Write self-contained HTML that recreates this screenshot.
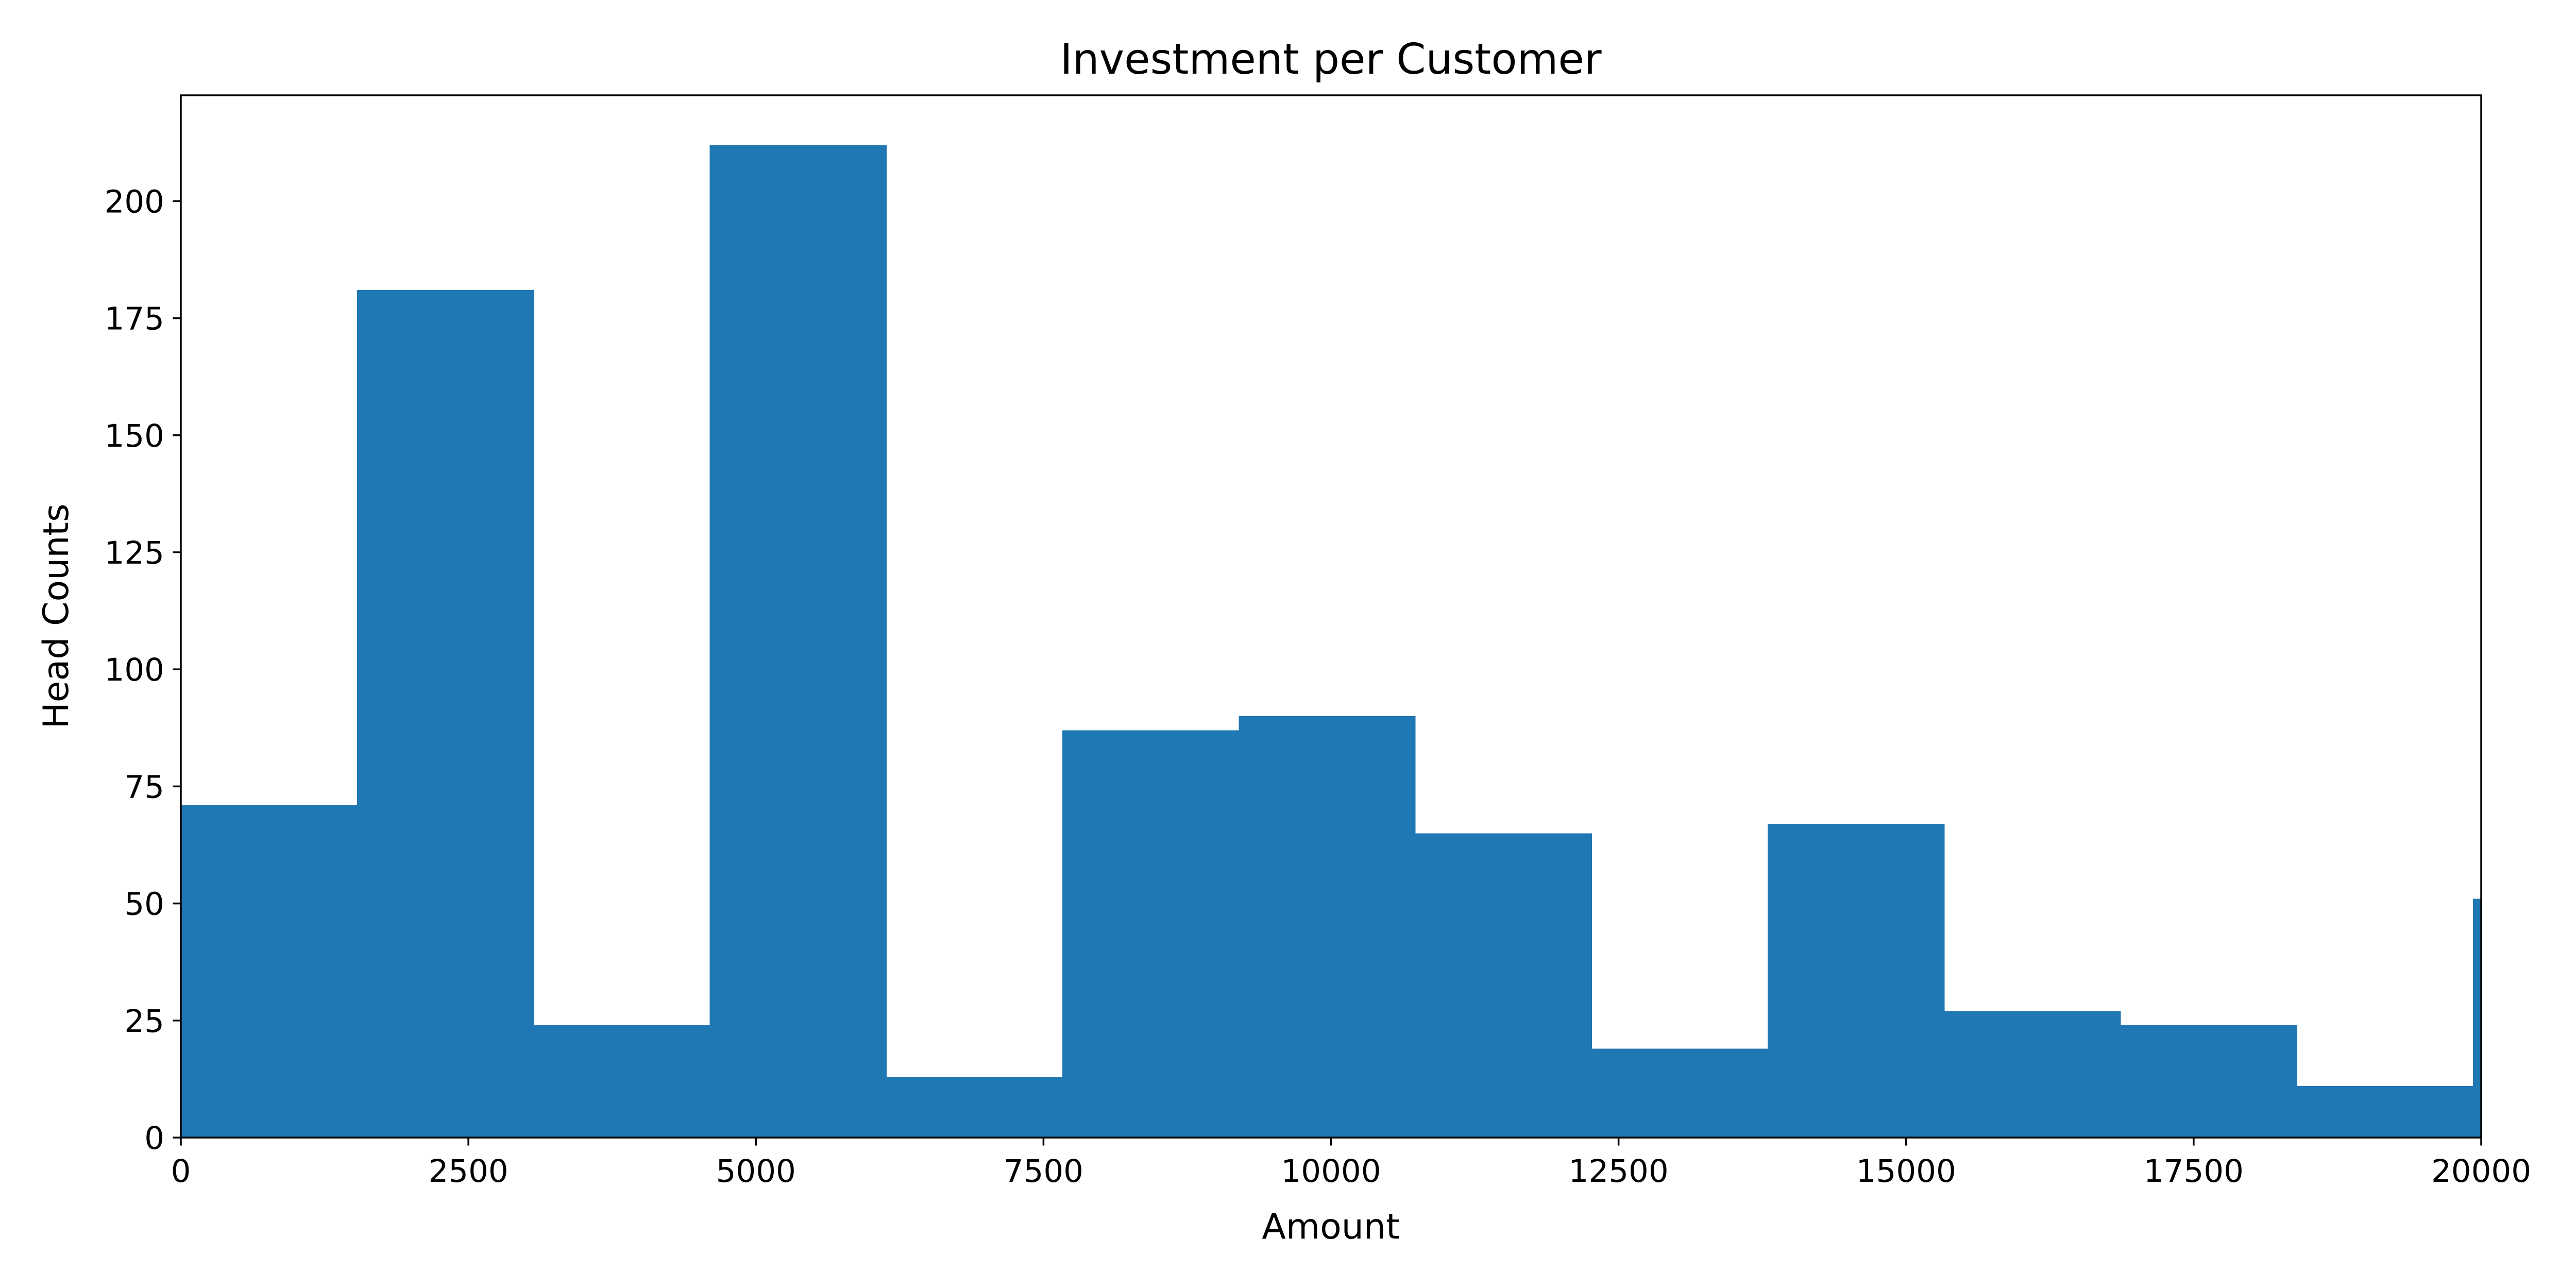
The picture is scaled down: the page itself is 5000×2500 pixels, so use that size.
<!DOCTYPE html>
<html><head><meta charset="utf-8"><style>html,body{margin:0;padding:0;background:#fff}svg{display:block}</style></head>
<body>
<svg id="chart" width="5000" height="2500" xmlns="http://www.w3.org/2000/svg" font-family="'DejaVu Sans', 'Liberation Sans', sans-serif">
<rect width="5000" height="2500" fill="#fff"/>
<g id="bars" shape-rendering="crispEdges"></g>
<g id="axes"></g>
<text x="2583" y="143" font-size="82" text-anchor="middle">Investment per Customer</text>
<text x="2583" y="2404" font-size="68" text-anchor="middle">Amount</text>
<text x="0" y="0" font-size="68" text-anchor="middle" transform="translate(132,1196) rotate(-90)">Head Counts</text>
</svg>
<script>
const binStart = 0;
const binWidth = 1533;
const counts = [71,181,24,212,13,87,90,65,19,67,27,24,11,51];
const xTicks = [0,2500,5000,7500,10000,12500,15000,17500,20000];
const yTicks = [0,25,50,75,100,125,150,175,200];
const xMin = 0, xMax = 20000, yMin = 0, yMax = 222.6;
const L = 351, R = 4816, T = 185, B = 2208;
const ns = "http://www.w3.org/2000/svg";
const sx = v => L + (v - xMin) / (xMax - xMin) * (R - L);
const sy = v => B - (v - yMin) / (yMax - yMin) * (B - T);
const bars = document.getElementById('bars');
const axes = document.getElementById('axes');
function mk(tag, attrs, parent){const e=document.createElementNS(ns,tag);for(const k in attrs)e.setAttribute(k,attrs[k]);parent.appendChild(e);return e;}
counts.forEach((c,i)=>{
  const x0 = sx(binStart + i*binWidth);
  const x1 = Math.min(sx(binStart + (i+1)*binWidth), R);
  if (x0 >= R) return;
  const r = mk('rect',{x:x0,y:sy(c),width:x1-x0+1,height:B-sy(c),fill:'#1f77b4'},bars);
  
  
});
const frame = mk('rect',{x:L,y:T,width:R-L,height:B-T,fill:'none',stroke:'#000','stroke-width':3.5},axes);


xTicks.forEach(v=>{
  const x = sx(v);
  const t = mk('line',{x1:x,x2:x,y1:B,y2:B+15.5,stroke:'#000','stroke-width':3.5},axes);
  
  
  const tx = mk('text',{x:x,y:B+86,'font-size':61,'text-anchor':'middle'},axes);
  tx.textContent = v;
  
  
});
yTicks.forEach(v=>{
  const y = sy(v);
  const t = mk('line',{x1:L-15.5,x2:L,y1:y,y2:y,stroke:'#000','stroke-width':3.5},axes);
  
  
  const tx = mk('text',{x:L-32,y:y+22,'font-size':61,'text-anchor':'end'},axes);
  tx.textContent = v;
  
  
});
</script>
</body></html>
